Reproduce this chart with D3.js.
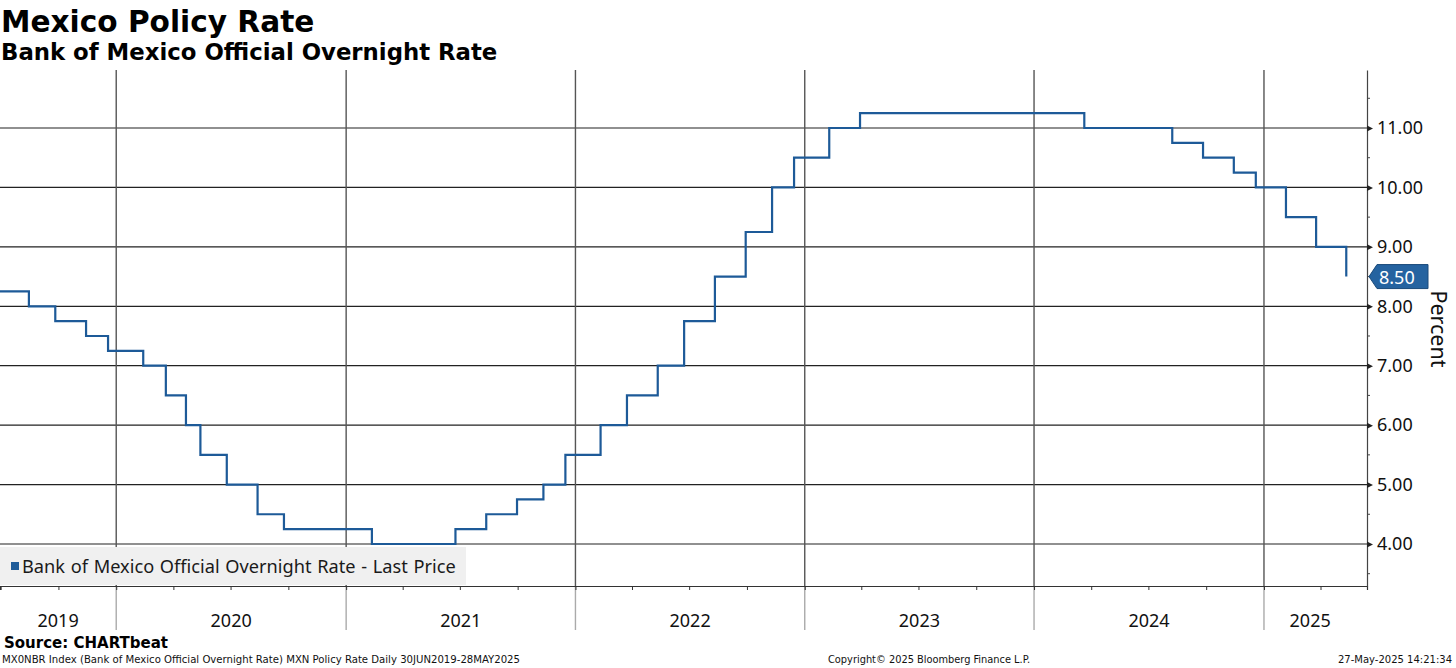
<!DOCTYPE html>
<html>
<head>
<meta charset="utf-8">
<script src="https://cdn.jsdelivr.net/npm/d3@7"></script>
<style>
  body { margin: 0; background: #fff; }
  svg { display: block; }
</style>
</head>
<body>
<div id="chart"></div>
<script>
// Banxico decision dates and the rate that followed
const rateDates = ["2019-06-30","2019-08-15","2019-09-26","2019-11-14","2019-12-19",
  "2020-02-13","2020-03-20","2020-04-21","2020-05-14","2020-06-25","2020-08-13","2020-09-24",
  "2021-02-11","2021-06-24","2021-08-12","2021-09-30","2021-11-11","2021-12-16",
  "2022-02-10","2022-03-24","2022-05-12","2022-06-23","2022-08-11","2022-09-29","2022-11-10","2022-12-15",
  "2023-02-09","2023-03-30","2024-03-21","2024-08-08","2024-09-26","2024-11-14","2024-12-19",
  "2025-02-05","2025-03-25","2025-05-12"];
const rateValues = [8.25, 8.00, 7.75, 7.50, 7.25,
  7.00, 6.50, 6.00, 5.50, 5.00, 4.50, 4.25,
  4.00, 4.25, 4.50, 4.75, 5.00, 5.50,
  6.00, 6.50, 7.00, 7.75, 8.50, 9.25, 10.00, 10.50,
  11.00, 11.25, 11.00, 10.75, 10.50, 10.25, 10.00,
  9.50, 9.00, 8.50];
const yTicks = [4, 5, 6, 7, 8, 9, 10, 11];
const yearLabels = ["2019","2020","2021","2022","2023","2024","2025"];
const lastPrice = 8.50;
const seriesName = "Bank of Mexico Official Overnight Rate - Last Price";

var W = 1456, H = 668;
var margin = {top: 70, right: 89, bottom: 82, left: 0},
    width = W - margin.left - margin.right,
    height = H - margin.top - margin.bottom;

var parse = d3.timeParse("%Y-%m-%d");
var data = rateDates.map(function(d, i) { return {date: parse(d), rate: rateValues[i]}; });
var dataEnd = parse("2025-05-28");

var svg = d3.select("#chart").append("svg").attr("width", W).attr("height", H);
var g = svg.append("g").attr("transform", "translate(" + margin.left + "," + margin.top + ")");

var x = d3.scaleTime().domain([parse("2019-06-30"), parse("2025-06-14")]).range([0, width]);
var y = d3.scaleLinear().domain([3.293, 11.976]).range([height, 0]);

// horizontal gridlines
g.selectAll(".hgrid").data(yTicks).enter().append("line")
  .attr("x1", 0).attr("x2", width)
  .attr("y1", d => y(d)).attr("y2", d => y(d))
  .style("stroke", "#222").style("stroke-width", 1.2);

// year gridlines (run down through the axis band)
var years = d3.range(2020, 2026).map(function(yr) { return new Date(yr, 0, 1); });
g.selectAll(".vgrid").data(years).enter().append("line")
  .attr("x1", d => x(d)).attr("x2", d => x(d))
  .attr("y1", 0).attr("y2", height)
  .style("stroke", "#555").style("stroke-width", 1.4);
g.selectAll(".vgrid2").data(years).enter().append("line")
  .attr("x1", d => x(d)).attr("x2", d => x(d))
  .attr("y1", height).attr("y2", height + 44)
  .style("stroke", "#aaa").style("stroke-width", 1.4);

// legend box sits over the grid
var legend = g.append("g").attr("transform", "translate(0," + (height - 39) + ")");
legend.append("rect").attr("width", 466).attr("height", 38).attr("fill", "#f0f0f0");
legend.append("rect").attr("x", 11).attr("y", 15).attr("width", 8).attr("height", 8).attr("fill", "#1f5c99");
legend.append("text").attr("x", 22).attr("y", 26)
  .style("font-family", "Noto Sans").style("font-size", "18.2px").style("fill", "#1a1a1a")
  .style("word-spacing", "1px")
  .text(seriesName);

// step line
var line = d3.line().curve(d3.curveStepAfter)
  .x(d => x(d.date)).y(d => y(d.rate));
g.append("path").datum(data)
  .attr("d", line)
  .attr("fill", "none")
  .attr("stroke", "#1d5a98")
  .attr("stroke-width", 2.2);

// bottom axis: quarter ticks only
var xAxis = g.append("g").attr("transform", "translate(0," + height + ")")
  .call(d3.axisBottom(x).ticks(d3.timeMonth.every(3)).tickSize(4).tickFormat(""));
xAxis.select(".domain").attr("stroke", "#333").attr("stroke-width", 1.2);
xAxis.selectAll(".tick line").attr("stroke", "#333");

// year labels centred in each year's span
g.selectAll(".yearLabel").data(yearLabels).enter().append("text")
  .attr("x", function(d) {
    var a = d3.max([x.domain()[0], new Date(+d, 0, 1)]);
    var b = d3.min([dataEnd, new Date(+d + 1, 0, 1)]);
    return (x(a) + x(b)) / 2;
  })
  .attr("y", height + 41)
  .attr("text-anchor", "middle")
  .style("font-family", "Noto Sans").style("font-size", "18px").style("fill", "#111")
  .text(d => d);

// right axis
var yAxis = g.append("g").attr("transform", "translate(" + width + ",0)")
  .call(d3.axisRight(y).tickValues(yTicks).tickSize(0).tickPadding(10).tickFormat(d3.format(".2f")));
yAxis.select(".domain").attr("stroke", "#444").attr("stroke-width", 1.2);
yAxis.selectAll(".tick text")
  .style("font-family", "Noto Sans").style("font-size", "18px").style("fill", "#111");
yAxis.selectAll(".tick").append("path")
  .attr("d", "M0,-3L6,0L0,3Z").attr("fill", "#222");
// half-point minor ticks
g.selectAll(".minor").data(d3.range(3.5, 12, 1)).enter().append("line")
  .attr("x1", width).attr("x2", width + 3)
  .attr("y1", d => y(d)).attr("y2", d => y(d))
  .style("stroke", "#444");

// last price tag
var tag = g.append("g").attr("transform", "translate(" + (width + 2) + "," + y(lastPrice) + ")");
tag.append("path").attr("d", "M0,0L8,-12L59,-12L59,12L8,12Z")
  .attr("fill", "#2563a0").attr("stroke", "#1a4a7a");
tag.append("text").attr("x", 10).attr("y", 7)
  .style("font-family", "Noto Sans").style("font-size", "18px").style("fill", "#fff")
  .text(d3.format(".2f")(lastPrice));

// axis title
svg.append("text")
  .attr("transform", "translate(1431,329) rotate(90)")
  .attr("text-anchor", "middle")
  .style("font-family", "Noto Sans").style("font-size", "21.5px").style("fill", "#111")
  .text("Percent");

// titles
svg.append("text").attr("x", 1).attr("y", 32)
  .style("font-family", "DejaVu Sans").style("font-weight", "bold").style("font-size", "29.6px")
  .text("Mexico Policy Rate");
svg.append("text").attr("x", 1).attr("y", 60)
  .style("font-family", "DejaVu Sans").style("font-weight", "bold").style("font-size", "22.8px")
  .text("Bank of Mexico Official Overnight Rate");

// footer
svg.append("text").attr("x", 4).attr("y", 648)
  .style("font-family", "DejaVu Sans").style("font-weight", "bold").style("font-size", "15px")
  .text("Source: CHARTbeat");
var foot = svg.append("g").style("font-family", "DejaVu Sans Condensed").style("font-size", "11px").style("fill", "#111");
foot.append("text").attr("x", 2).attr("y", 663).attr("textLength", 518).attr("lengthAdjust", "spacingAndGlyphs")
  .text("MX0NBR Index (Bank of Mexico Official Overnight Rate) MXN Policy Rate  Daily 30JUN2019-28MAY2025");
foot.append("text").attr("x", 828).attr("y", 663).attr("textLength", 202).attr("lengthAdjust", "spacingAndGlyphs")
  .text("Copyright\u00a9 2025 Bloomberg Finance L.P.");
foot.append("text").attr("x", 1452).attr("y", 663).attr("text-anchor", "end")
  .attr("textLength", 114).attr("lengthAdjust", "spacingAndGlyphs")
  .text("27-May-2025 14:21:34");
</script>
</body>
</html>
